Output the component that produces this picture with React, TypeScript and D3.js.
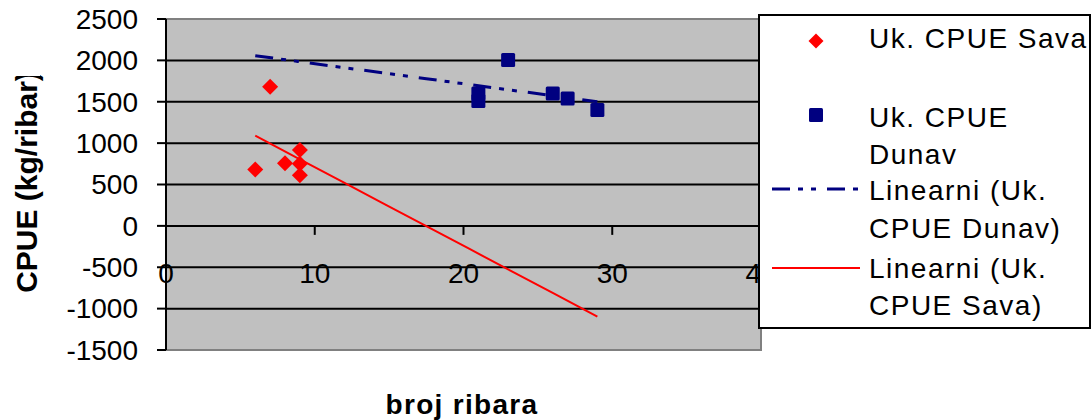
import React from "react";
import * as d3 from "d3";

const savaX = [6, 7, 8, 9, 9, 9];
const savaY = [680, 1680, 756, 916, 752, 612];
const dunavX = [21, 21, 23, 26, 27, 29];
const dunavY = [1600, 1510, 2005, 1600, 1540, 1400];
const yTicks = [2500, 2000, 1500, 1000, 500, 0, -500, -1000, -1500];
const xTicks = [0, 10, 20, 30, 40];
const legendLabels = [
  ["Uk. CPUE Sava"],
  ["Uk. CPUE", "Dunav"],
  ["Linearni (Uk.", "CPUE Dunav)"],
  ["Linearni (Uk.", "CPUE Sava)"],
];

const W = 1092;
const H = 420;
const FONT = "'Liberation Sans', Arial, sans-serif";

function fit(xs: number[], ys: number[]) {
  const mx = d3.mean(xs) as number;
  const my = d3.mean(ys) as number;
  let sxy = 0;
  let sxx = 0;
  xs.forEach((x, i) => {
    sxy += (x - mx) * (ys[i] - my);
    sxx += (x - mx) * (x - mx);
  });
  const b = sxy / sxx;
  return (x: number) => my + b * (x - mx);
}

export default function App() {
  const x = d3.scaleLinear().domain([0, 40]).range([166, 761]);
  const y = d3.scaleLinear().domain([-1500, 2500]).range([350, 19]);
  const allX = [...savaX, ...dunavX];
  const x0 = d3.min(allX) as number;
  const x1 = d3.max(allX) as number;
  const fs = fit(savaX, savaY);
  const fd = fit(dunavX, dunavY);
  const trendPts = d3.range(x0, x1 + 0.001, (x1 - x0) / 8);
  const savaPath = d3
    .line<number>()
    .x((d) => x(d))
    .y((d) => y(fs(d)))(trendPts) as string;
  const dunavPath = d3
    .line<number>()
    .x((d) => x(d))
    .y((d) => y(fd(d)))(trendPts) as string;
  const dash = "18 8 5 8 5 11";
  const diamond = (cx: number, cy: number, r: number) =>
    `M${cx},${cy - r}L${cx + r},${cy}L${cx},${cy + r}L${cx - r},${cy}Z`;

  const lgX = 759;
  const lgTop = 15;
  const textX = 869;
  const baselines = [[48], [127, 164], [200, 238], [278, 315]];

  return (
    <svg
      width={W}
      height={H}
      style={{ position: "absolute", left: 0, top: 0, background: "#fff" }}
      fontFamily={FONT}
    >
      <defs>
        <clipPath id="ytclip">
          <path d="M0,76H80V400H0Z M40,0H80V76H40Z" />
        </clipPath>
        <clipPath id="lgclip">
          <rect x={lgX} y={lgTop} width={1089 - lgX} height={328 - lgTop} />
        </clipPath>
      </defs>
      {/* plot area */}
      <rect
        x={x(0)}
        y={y(2500)}
        width={x(40) - x(0)}
        height={y(-1500) - y(2500)}
        fill="#C0C0C0"
        stroke="#808080"
        strokeWidth={2}
      />
      {/* gridlines */}
      {yTicks
        .filter((t) => t !== 2500 && t !== -1500)
        .map((t) => (
          <line
            key={"g" + t}
            x1={x(0)}
            x2={x(40)}
            y1={y(t)}
            y2={y(t)}
            stroke="#000"
            strokeWidth={2}
          />
        ))}
      {/* y axis */}
      <line x1={x(0)} x2={x(0)} y1={y(2500)} y2={y(-1500)} stroke="#000" strokeWidth={2} />
      {yTicks.map((t) => (
        <g key={"yt" + t}>
          <line x1={x(0) - 9} x2={x(0)} y1={y(t)} y2={y(t)} stroke="#000" strokeWidth={2} />
          <text x={138} y={y(t)} dy="0.35em" textAnchor="end" fontSize={28} fill="#000">
            {t}
          </text>
        </g>
      ))}
      {/* x axis at 0 */}
      <line x1={x(0)} x2={x(40)} y1={y(0)} y2={y(0)} stroke="#000" strokeWidth={2} />
      {xTicks.map((t) => (
        <g key={"xt" + t}>
          <line x1={x(t)} x2={x(t)} y1={y(0)} y2={y(0) + 9} stroke="#000" strokeWidth={2} />
          <text x={x(t)} y={283} textAnchor="middle" fontSize={28} fill="#000">
            {t}
          </text>
        </g>
      ))}
      {/* trend lines */}
      <path d={dunavPath} fill="none" stroke="#000080" strokeWidth={3} strokeDasharray={dash} />
      <path d={savaPath} fill="none" stroke="#FF0000" strokeWidth={2} />
      {/* markers */}
      {savaX.map((v, i) => (
        <path key={"s" + i} d={diamond(x(v), y(savaY[i]), 8)} fill="#FF0000" />
      ))}
      {dunavX.map((v, i) => (
        <rect
          key={"d" + i}
          x={x(v) - 7}
          y={y(dunavY[i]) - 7}
          width={14}
          height={14}
          rx={1.5}
          fill="#000080"
        />
      ))}
      {/* axis titles */}
      <g clipPath="url(#ytclip)">
        <text
          transform="translate(37,182) rotate(-90)"
          textAnchor="middle"
          fontSize={30}
          fontWeight="bold"
          fill="#000"
        >
          CPUE (kg/ribar)
        </text>
      </g>
      <text
        x={462}
        y={414}
        textAnchor="middle"
        fontSize={28}
        fontWeight="bold"
        letterSpacing={1.3}
        fill="#000"
      >
        broj ribara
      </text>
      {/* legend */}
      <rect
        x={lgX}
        y={lgTop}
        width={1090 - lgX}
        height={328 - lgTop}
        fill="#fff"
        stroke="#000"
        strokeWidth={2}
      />
      <path d={diamond(816, 41, 7.5)} fill="#FF0000" />
      <rect x={809} y={108} width={14} height={14} rx={1.5} fill="#000080" />
      <line x1={772} x2={858} y1={189} y2={189} stroke="#000080" strokeWidth={3} strokeDasharray={dash} />
      <line x1={772} x2={860} y1={268} y2={268} stroke="#FF0000" strokeWidth={2} />
      <g clipPath="url(#lgclip)">
        {legendLabels.map((lines, i) =>
          lines.map((s, j) => (
            <text
              key={"l" + i + "_" + j}
              x={textX}
              y={baselines[i][j]}
              fontSize={28}
              letterSpacing={1.5}
              fill="#000"
            >
              {s}
            </text>
          ))
        )}
      </g>
    </svg>
  );
}
